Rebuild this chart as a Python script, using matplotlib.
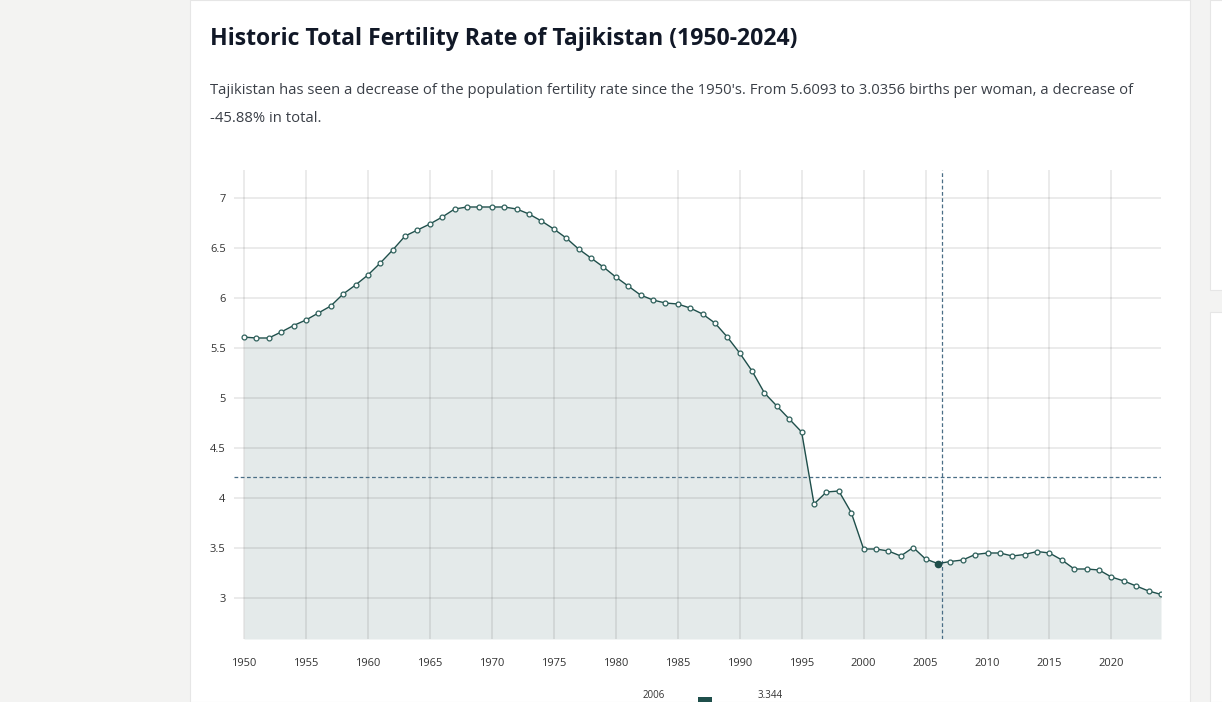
import matplotlib
matplotlib.use("Agg")
import matplotlib.pyplot as plt
from matplotlib.patches import Rectangle

W, H = 1222, 702

years = list(range(1950, 2025))
fertility = [
    5.609, 5.60, 5.60, 5.66, 5.725, 5.78, 5.85, 5.92, 6.04, 6.13,
    6.23, 6.35, 6.48, 6.62, 6.68, 6.74, 6.81, 6.89, 6.91, 6.91,
    6.91, 6.91, 6.89, 6.84, 6.77, 6.69, 6.60, 6.49, 6.40, 6.31,
    6.21, 6.12, 6.03, 5.98, 5.95, 5.94, 5.90, 5.84, 5.75, 5.61,
    5.45, 5.27, 5.05, 4.92, 4.79, 4.66, 3.94, 4.06, 4.07, 3.855,
    3.49, 3.49, 3.47, 3.42, 3.505, 3.39, 3.344, 3.365, 3.38, 3.435,
    3.45, 3.45, 3.42, 3.435, 3.465, 3.45, 3.38, 3.29, 3.29, 3.28,
    3.21, 3.17, 3.12, 3.07, 3.0356,
]
x_ticks = list(range(1950, 2025, 5))
y_ticks = [3, 3.5, 4, 4.5, 5, 5.5, 6, 6.5, 7]
y_tick_labels = ["3", "3.5", "4", "4.5", "5", "5.5", "6", "6.5", "7"]
highlight_year = 2006
cursor_x = 2006.33
cursor_y = 4.21
legend_labels = ["2006", "3.344"]

title = "Historic Total Fertility Rate of Tajikistan (1950-2024)"
subtitle = [
    "Tajikistan has seen a decrease of the population fertility rate since the 1950's. "
    "From 5.6093 to 3.0356 births per woman, a decrease of",
    "-45.88% in total.",
]

LINE = "#1f4f4b"
MARKER_EDGE = "#2f615c"
FILL = "#e4eaea"
CURSOR = "#4a6e86"

plt.rcParams["font.family"] = ["Open Sans", "DejaVu Sans"]


def fx(x):
    return x / W


def fy(y):
    return 1 - y / H


def card(x0, y0, x1, y1):
    # white page panels behind the chart
    fig.patches.append(Rectangle((fx(x0), fy(y1)), fx(x1 - x0), fy(y0) - fy(y1),
                                 transform=fig.transFigure, facecolor="white",
                                 edgecolor="#e6e6e6", linewidth=0.8, zorder=-5))


fig = plt.figure(figsize=(W / 100, H / 100), dpi=100, facecolor="#f3f3f2")
card(190, 0, 1190, 702)
card(1210, 0, 1232, 290)
card(1210, 312, 1232, 702)

fig.text(fx(210), fy(39), title, fontsize=16.6, fontweight="bold", color="#111827", va="center")
fig.text(fx(210), fy(90), subtitle[0], fontsize=10.75, color="#3a3f47", va="center")
fig.text(fx(210), fy(118), subtitle[1], fontsize=10.75, color="#3a3f47", va="center")

left, right, top, bottom = 234, 1161, 170, 639
ax = fig.add_axes([fx(left), fy(bottom), fx(right - left), fy(top) - fy(bottom)])
ax.set_facecolor("none")

y_top = 7 + (198 - top) / 100
y_bot = 7 - (bottom - 198) / 100
ax.set_ylim(y_bot, y_top)
ax.set_xlim(1950 - 10 / 12.386, 2024)

ax.fill_between(years, fertility, y_bot, color=FILL, zorder=1, linewidth=0)
ax.plot(years, fertility, color=LINE, linewidth=1.0, marker="o", markersize=3.5,
        markerfacecolor="white", markeredgecolor=MARKER_EDGE, markeredgewidth=0.9, zorder=4)
hi = years.index(highlight_year)
ax.plot([years[hi]], [fertility[hi]], marker="o", markersize=4.5, color=LINE, zorder=5)

for xt in x_ticks:
    ax.axvline(xt, color="black", alpha=0.085, linewidth=1.3, zorder=2)
for yt in y_ticks:
    ax.axhline(yt, color="black", alpha=0.085, linewidth=1.3, zorder=2)

ax.axhline(cursor_y, color=CURSOR, linewidth=0.9, linestyle=(0, (3, 2)), zorder=3)
ax.axvline(cursor_x, color=CURSOR, linewidth=0.9, linestyle=(0, (3, 2)), zorder=3)

ax.set_xticks(x_ticks)
ax.set_xticklabels([str(x) for x in x_ticks])
ax.set_yticks(y_ticks)
ax.set_yticklabels(y_tick_labels)
ax.tick_params(axis="both", length=0, labelsize=8, colors="#333333")
ax.tick_params(axis="x", pad=14)
ax.tick_params(axis="y", pad=6)
for s in ax.spines.values():
    s.set_visible(False)

# legend at the bottom edge (cut by the page in the source)
fig.patches.append(Rectangle((fx(698), 0), fx(14), fy(697), transform=fig.transFigure,
                             facecolor=LINE, edgecolor="none"))
fig.text(fx(654), fy(701), legend_labels[0], fontsize=7, color="#333333", ha="center", va="bottom")
fig.text(fx(770), fy(701), legend_labels[1], fontsize=7, color="#333333", ha="center", va="bottom")

fig.savefig("out.png", dpi=100, facecolor=fig.get_facecolor())
